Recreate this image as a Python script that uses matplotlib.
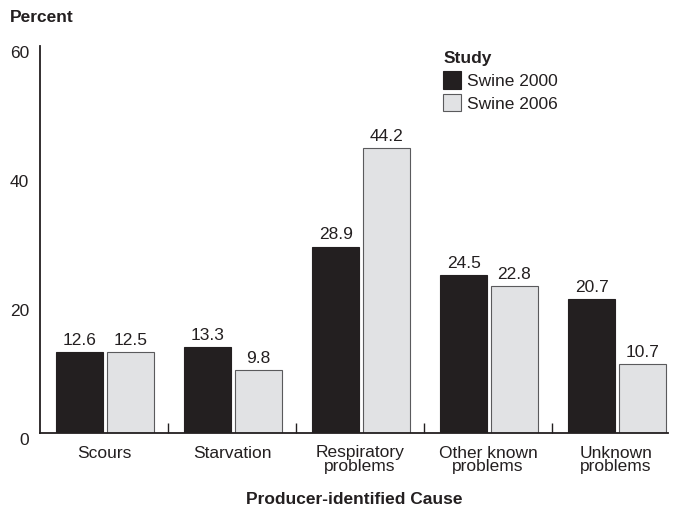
import matplotlib.pyplot as plt
import numpy as np

plt.rc('font', family='Liberation Sans', size=12.5)

causes = ["Scours", "Starvation", "Respiratory\nproblems",
          "Other known\nproblems", "Unknown\nproblems"]
swine_2000 = [12.6, 13.3, 28.9, 24.5, 20.7]
swine_2006 = [12.5, 9.8, 44.2, 22.8, 10.7]
yticks = [0, 20, 40, 60]

ink = "#231f20"
light = "#e1e2e4"

fig = plt.figure(figsize=(6.74, 5.08), dpi=100)
ax = fig.add_axes([40/674, 75/508, 628/674, 387/508])

x = np.arange(len(causes))
w = 0.367
b1 = ax.bar(x - 0.19, swine_2000, w, color=ink, edgecolor=ink, linewidth=0.8, label="Swine 2000")
b2 = ax.bar(x + 0.205, swine_2006, w, color=light, edgecolor="#5a5a5c", linewidth=0.8, label="Swine 2006")
ax.bar_label(b1, fmt="%.1f", padding=3, color=ink)
ax.bar_label(b2, fmt="%.1f", padding=3, color=ink)

ax.set_xlim(-0.5, 4.406)
ax.set_ylim(0, 60)
ax.set_yticks(yticks)
ax.tick_params(axis='y', length=0, pad=8, colors=ink)
for lab in ax.get_yticklabels():
    lab.set_va('top')

ax.set_xticks(x)
ax.set_xticklabels(causes, linespacing=0.85)
ax.tick_params(axis='x', which='major', length=0, pad=9, colors=ink)
ax.set_xticks(x[:-1] + 0.5, minor=True)
ax.tick_params(axis='x', which='minor', direction='in', length=7, width=1, color=ink)

for s in ['top', 'right']:
    ax.spines[s].set_visible(False)
for s in ['left', 'bottom']:
    ax.spines[s].set_color(ink)
    ax.spines[s].set_linewidth(1.3)

fig.text(10/674, 1 - 18/508, "Percent", fontweight='bold', va='center', ha='left', color=ink)
fig.text(354/674, 1 - 500/508, "Producer-identified Cause", fontweight='bold',
         va='center', ha='center', color=ink)

leg = ax.legend(loc='upper left', bbox_to_anchor=(431/674, 1 - 39/508),
                bbox_transform=fig.transFigure, frameon=False, title="Study",
                handlelength=1.05, handleheight=1.15, handletextpad=0.3,
                labelspacing=0.3, borderpad=0.2, alignment='left')
leg.get_title().set_fontweight('bold')
leg.get_title().set_color(ink)
for t in leg.get_texts():
    t.set_color(ink)

fig.savefig("out.png", dpi=100)
